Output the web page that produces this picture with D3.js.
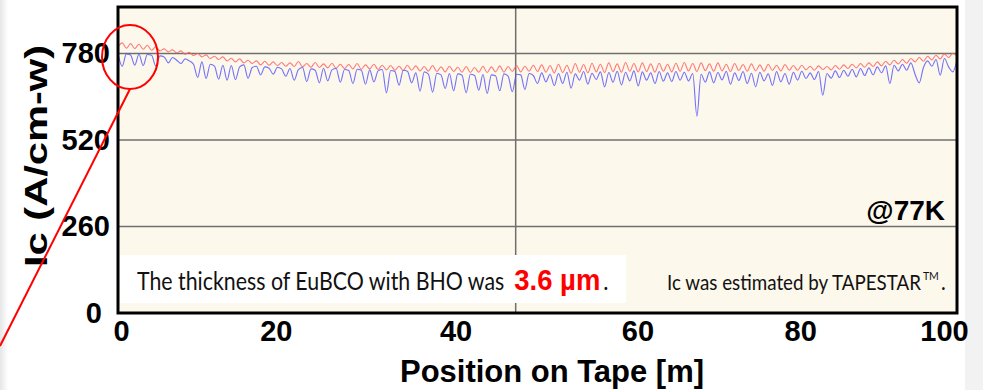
<!DOCTYPE html>
<html>
<head>
<meta charset="utf-8">
<script src="https://cdn.jsdelivr.net/npm/d3@7"></script>
<style>
  body { margin: 0; background: #fff; }
  svg { display: block; }
</style>
</head>
<body>
<div id="chart"></div>
<script>
// tick labels
var yTicks = [0, 260, 520, 780];
var xTicks = [0, 20, 40, 60, 80, 100];
var vGrid = [47.4];

// Ic along the tape, one value every 0.5 m (0 .. 100 m)
var icRed = [
  800, 812, 796, 810, 795, 808, 793, 805, 790, 800, 788,
  794, 785, 791, 782, 788, 778, 784, 774, 780, 770,
  776, 765, 772, 762, 770, 758, 766, 755, 764, 752,
  760, 750, 758, 746, 757, 745, 755, 744, 753, 742,
  752, 741, 756, 740, 750, 739, 753, 738, 749, 737,
  751, 736, 748, 735, 747, 734, 750, 733, 746, 734,
  748, 732, 745, 731, 744, 730, 742, 729, 745, 730,
  743, 728, 741, 727, 744, 726, 740, 725, 742, 726,
  739, 724, 741, 723, 738, 724, 742, 723, 740, 725,
  743, 724, 741, 726, 744, 725, 742, 727, 745, 726,
  746, 724, 744, 722, 748, 723, 745, 721, 750, 724,
  747, 722, 751, 725, 748, 723, 752, 726, 749, 724,
  753, 727, 750, 725, 752, 726, 749, 724, 751, 727,
  748, 725, 751, 727, 753, 728, 750, 726, 752, 729,
  749, 727, 752, 728, 748, 726, 750, 729, 747, 727,
  749, 728, 746, 727, 748, 729, 745, 728, 747, 730,
  744, 730, 745, 731, 742, 730, 743, 732, 741, 731,
  744, 733, 746, 735, 748, 737, 750, 739, 752, 741,
  755, 743, 757, 746, 760, 749, 762, 751, 765, 755,
  768, 757, 772, 761, 775, 764, 779, 768, 781, 772
];
var icBlue = [
  778, 742, 779, 776, 745, 778, 744, 777, 775, 743, 773,
  770, 752, 768, 760, 750, 764, 758, 748, 708, 755,
  705, 748, 742, 703, 745, 700, 744, 702, 740, 746,
  706, 738, 742, 716, 740, 736, 718, 739, 734, 712,
  735, 700, 732, 738, 696, 734, 730, 692, 736, 698,
  731, 735, 694, 732, 729, 690, 733, 730, 688, 731,
  695, 728, 732, 662, 729, 726, 685, 730, 727, 692,
  722, 667, 725, 718, 664, 721, 716, 675, 720, 668,
  719, 715, 662, 718, 714, 670, 717, 660, 716, 713,
  668, 719, 712, 665, 718, 716, 672, 720, 714, 690,
  722, 695, 718, 684, 720, 690, 724, 676, 719, 700,
  726, 688, 721, 702, 725, 680, 723, 694, 727, 686,
  724, 698, 728, 683, 725, 700, 722, 690, 726, 697,
  722, 696, 726, 700, 724, 698, 720, 592, 718, 694,
  725, 692, 723, 701, 727, 688, 722, 699, 726, 690,
  721, 680, 724, 698, 719, 684, 726, 695, 720, 688,
  724, 700, 727, 705, 722, 702, 726, 655, 720, 706,
  728, 708, 730, 712, 733, 710, 735, 714, 737, 716,
  740, 722, 743, 690, 745, 728, 748, 730, 752, 718,
  692, 738, 758, 742, 762, 715, 765, 740, 725, 760
];
var positions = icRed.map(function (d, i) { return i * 0.5; });

var W = 983, H = 390;
var margin = {top: 7, left: 118},
    width = 839,
    height = 306;

var svg = d3.select("#chart").append("svg")
    .attr("width", W)
    .attr("height", H);

// page edges (slide shadow)
svg.append("rect").attr("x", 965).attr("y", 0).attr("width", W - 965).attr("height", H).style("fill", "#f2f2f2");
var grad = svg.append("defs").append("linearGradient").attr("id", "lg");
grad.append("stop").attr("offset", "0%").attr("stop-color", "#e6e6e6");
grad.append("stop").attr("offset", "100%").attr("stop-color", "#ffffff");
svg.append("rect").attr("x", 0).attr("y", 0).attr("width", 8).attr("height", H).style("fill", "url(#lg)");

var xScale = d3.scaleLinear().domain([0, 100]).range([0, width]),
    yScale = d3.scaleLinear().domain([0, 920]).range([height, 0]);

var g = svg.append("g")
    .attr("transform", "translate(" + margin.left + "," + margin.top + ")");

g.append("rect")
    .attr("width", width)
    .attr("height", height)
    .style("fill", "#fdf8ec");

// grid
g.selectAll(".hgrid")
    .data(yTicks.filter(function (d) { return d > 0; }))
    .enter().append("line")
    .attr("class", "hgrid")
    .attr("x1", 0).attr("x2", width)
    .attr("y1", function (d) { return yScale(d); })
    .attr("y2", function (d) { return yScale(d); })
    .style("stroke", "#6f6f6f").style("stroke-width", 1.5);

g.selectAll(".vgrid")
    .data(vGrid)
    .enter().append("line")
    .attr("class", "vgrid")
    .attr("y1", 0).attr("y2", height)
    .attr("x1", function (d) { return xScale(d); })
    .attr("x2", function (d) { return xScale(d); })
    .style("stroke", "#6f6f6f").style("stroke-width", 1.5);

// text box
g.append("rect")
    .attr("x", 2).attr("y", 248)
    .attr("width", 506).attr("height", 48)
    .style("fill", "#ffffff");

var line = d3.line()
    .x(function (d, i) { return xScale(positions[i]); })
    .y(function (d) { return yScale(d); })
    .curve(d3.curveMonotoneX);

g.append("path").datum(icRed)
    .attr("d", line)
    .style("fill", "none").style("stroke", "#ff6464").style("stroke-width", 1.1)
    .style("stroke-linejoin", "round").style("opacity", 0.85);
g.append("path").datum(icBlue)
    .attr("d", line)
    .style("fill", "none").style("stroke", "#4f4fff").style("stroke-width", 1.1)
    .style("stroke-linejoin", "round").style("opacity", 0.8);

// frame
g.append("rect")
    .attr("width", width)
    .attr("height", height)
    .style("fill", "none").style("stroke", "#000").style("stroke-width", 3);

// axes
var xAxis = d3.axisBottom(xScale).tickValues(xTicks).tickSize(0).tickPadding(8),
    yAxis = d3.axisLeft(yScale).tickValues(yTicks).tickSize(0).tickPadding(8);

var gx = g.append("g")
    .attr("transform", "translate(0," + height + ")")
    .call(xAxis);
var gy = g.append("g").call(yAxis);
gx.select(".domain").remove();
gy.select(".domain").remove();
gx.selectAll("text").attr("dy", "0.71em").attr("y", 7);
[gx, gy].forEach(function (a) {
    a.selectAll("text")
        .style("font-family", "'Liberation Sans', Arial, sans-serif")
        .style("font-weight", "bold")
        .style("font-size", "29px")
        .style("fill", "#000");
});
// labels sit slightly off their ticks in the original slide
var xLabelShift = {0: 3, 20: -10, 40: 2, 60: 16, 80: 11, 100: -13};
gx.selectAll("text").attr("dx", function (d) { return xLabelShift[d] || 0; });
gy.selectAll("text").attr("dx", function (d) { return d === 0 ? -8 : 0; });

// titles
svg.append("text")
    .attr("x", 552).attr("y", 382)
    .attr("text-anchor", "middle")
    .attr("textLength", 304).attr("lengthAdjust", "spacingAndGlyphs")
    .style("font-family", "'Liberation Sans', Arial, sans-serif")
    .style("font-weight", "bold").style("font-size", "32px")
    .text("Position on Tape [m]");

svg.append("text")
    .attr("transform", "translate(47,156) rotate(-90)")
    .attr("text-anchor", "middle")
    .attr("textLength", 222).attr("lengthAdjust", "spacingAndGlyphs")
    .style("font-family", "'Liberation Sans', Arial, sans-serif")
    .style("font-weight", "bold").style("font-size", "31px")
    .text("Ic  (A/cm-w)");

svg.append("text")
    .attr("x", 945).attr("y", 220)
    .attr("text-anchor", "end")
    .style("font-family", "'Liberation Sans', Arial, sans-serif")
    .style("font-weight", "bold").style("font-size", "28px")
    .text("@77K");

// notes: each piece sized to its width in the slide, stretched a bit upward
// (the slide font is narrower than anything installed), then placed after the previous one
var body = "Lato, 'Open Sans', sans-serif";
function piece(x, y, str, family, target, stretch, extra) {
    var t = svg.append("g")
        .attr("transform", "translate(" + x + "," + y + ") scale(1," + stretch + ")")
        .append("text")
        .style("font-family", family)
        .style("font-size", "20px").style("fill", "#111")
        .text(str);
    if (extra) extra(t);
    var w = t.node().getComputedTextLength();
    if (target) {
        t.style("font-size", (20 * target / w).toFixed(2) + "px");
        w = t.node().getComputedTextLength();
    }
    return x + w;
}
var nx = piece(137, 290, "The thickness of EuBCO with BHO was", body, 367, 1.16);
nx = piece(nx + 10, 290, "3.6 \u00b5m", "'Liberation Sans', Arial, sans-serif", 86, 1.05, function (t) {
    t.style("fill", "#ff0000").style("font-weight", "bold");
});
piece(nx + 3, 290, ".", body, 0, 1.16, function (t) { t.style("font-size", "22px"); });

var ex = piece(667, 290, "Ic was estimated by TAPESTAR", body, 254, 1.14);
ex = piece(ex + 2, 280, "TM", body, 16, 1.1);
piece(ex + 2, 290, ".", body, 0, 1.14);

// zoom marker
svg.append("ellipse")
    .attr("cx", 130).attr("cy", 57).attr("rx", 28).attr("ry", 32)
    .style("fill", "none").style("stroke", "#ff0000").style("stroke-width", 2);
svg.append("line")
    .attr("x1", 130).attr("y1", 89).attr("x2", 0).attr("y2", 346)
    .style("stroke", "#ff0000").style("stroke-width", 2);
</script>
</body>
</html>
